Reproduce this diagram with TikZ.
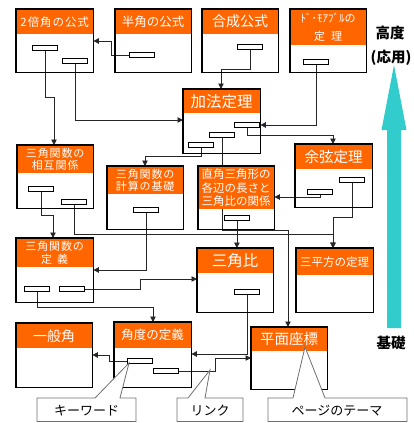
\documentclass[tikz,border=0pt]{standalone}
\usepackage{fontspec}
\setmainfont{Noto Sans CJK JP}
\usetikzlibrary{arrows.meta}
\definecolor{hdrorange}{HTML}{FF6600}
\definecolor{cyanarrow}{HTML}{33CCCC}
\definecolor{calloutgray}{HTML}{707070}
\pgfdeclarelayer{bodylayer}
\pgfdeclarelayer{toplayer}
\pgfsetlayers{bodylayer,main,toplayer}
\newcommand\fs[2]{\fontsize{#1pt}{#2pt}\selectfont}
\newcommand\fsl[2]{\fontsize{#1pt}{#2pt}\selectfont\addfontfeature{LetterSpace=8}}
\tikzset{
  body/.style={rectangle, fill=white, inner sep=0pt, anchor=north west},
  hdr/.style={rectangle, fill=hdrorange, text=white, inner sep=0pt, anchor=north west, align=center},
  frame/.style={draw=black, line width=1.5pt},
  kwbar/.style={rectangle, draw=black, line width=0.8pt, fill=white, minimum width=25pt, minimum height=5pt, inner sep=0pt, anchor=north west},
  link/.style={draw=black!85, line width=0.8pt, -{Triangle[length=5.5pt,width=5.5pt]}},
  callout/.style={draw=calloutgray, fill=white, line width=0.8pt},
  callouttext/.style={font=\fs{13}{15}, text=black, inner sep=0pt},
  sidetext/.style={font=\fs{14.5}{16}\bfseries, text=black, inner sep=0pt}
}
% name, x, y, width, height, header height, font, text
\newcommand\topic[8]{%
  \begin{pgfonlayer}{bodylayer}
    \node[body, minimum width=#4pt, minimum height=#5pt] (#1) at (#2,#3) {};
  \end{pgfonlayer}
  \begin{pgfonlayer}{toplayer}
    \node[hdr, minimum width=#4pt, minimum height=#6pt, font={#7}] (#1h) at (#2,#3) {#8};
    \draw[frame] (#1.north west) rectangle (#1.south east);
  \end{pgfonlayer}
}
\newcommand\kw[3]{\node[kwbar] (#1) at (#2,#3) {};}

\begin{document}
\begin{tikzpicture}[x=1pt, y=-1pt]
\useasboundingbox (0,0) rectangle (413,423);

% boxes
\topic{box1}{16}{9}{77}{63}{25}{\fsl{11.5}{13}}{2倍角の公式}
\topic{box2}{115}{9}{76}{63}{25}{\fs{12.5}{14}}{半角の公式}
\topic{box3}{202}{9}{76}{63}{25}{\fs{14}{16}}{合成公式}
\topic{box4}{290}{9}{76}{63}{36}{\fs{11}{18}}{ﾄﾞ･ﾓｱﾌﾞﾙの\\定\hspace{6pt}理}
\topic{box5}{183}{89}{77}{64}{24}{\fs{15.5}{17}}{加法定理}
\topic{box6}{17}{145}{76}{63}{28}{\fsl{11}{12.5}}{三角関数の\\相互関係}
\topic{box7}{107}{166}{76}{63}{28}{\fsl{11}{12.5}}{三角関数の\\計算の基礎}
\topic{box8}{198}{166}{76}{63}{43}{\fs{11.5}{13.5}}{直角三角形の\\各辺の長さと\\三角比の関係}
\topic{box9}{295}{144}{77}{63}{25}{\fs{14.5}{16}}{余弦定理}
\topic{box10}{16}{238}{77}{64}{29}{\fsl{11}{13}}{三角関数の\\定\hspace{5pt}義}
\topic{box11}{197}{248}{76}{64}{25}{\fs{15.5}{17}}{三角比}
\topic{box12}{296}{248}{77}{64}{27}{\fs{11.5}{13}}{三平方の定理}
\topic{box13}{16}{323}{76}{64}{25}{\fs{14}{16}}{一般角}
\topic{box14}{114}{322}{77}{65}{26}{\fs{12.5}{14}}{角度の定義}
\topic{box15}{251}{327}{76}{62}{24}{\fs{14.5}{16}}{平面座標}

% keyword bars
\kw{b1a}{32}{45}
\kw{b1b}{62}{58}
\kw{b2}{129}{52}
\kw{b3}{237}{44}
\kw{b4}{303}{59}
\kw{b5a}{234}{122}
\kw{b5b}{209}{132}
\kw{b5c}{188}{142}
\kw{b6a}{28}{186}
\kw{b6b}{61}{199}
\kw{b7}{133}{207}
\kw{b8}{224}{215}
\kw{b9a}{339}{177}
\kw{b9b}{307}{189}
\kw{b10a}{24}{286}
\kw{b10b}{59}{286}
\kw{b11}{234}{289}
\kw{b14a}{127}{358}
\kw{b14b}{153}{368}

% links
\draw[link] (b2.west) -| (111,41) -- (box1.east |- 0,41);
\draw[link] (b1a.south) |- (54,97) -- (box6.north -| 54,0);
\draw[link] (b1b.south) |- (box5.west |- 0,120);
\draw[link] (b3.south) |- (221,69) -- (box5.north -| 221,0);
\draw[link] (b4.south) |- (box5.east |- 0,125);
\draw[link] (b5a.south) |- (333,135) -- (box9.north -| 333,0);
\draw[link] (b5b.south) |- (288,230) -- (box15.north -| 288,0);
\draw[link] (b5c.south) |- (145,156) -- (box7.north -| 145,0);
\draw[link] (b6a.south) |- (53,215) -- (box10.north -| 53,0);
\draw[link] (b6b.south) |- (333,234) -- (box12.north -| 333,0);
\draw[link] (b9a.south) |- (333,217) -- (box12.north -| 333,0);
\draw[link] (b9b.south) |- (box8.east |- 0,197);
\draw[link] (b7.south) |- (box10.east |- 0,270);
\draw[link] (b8.south) -- (box11.north -| b8.south);
\draw[link] (b10b.east) -| (140,279) -- (box11.west |- 0,279);
\draw[link] (b10a.south) |- (153,307) -- (box14.north -| 153,0);
\draw[link] (b11.south) |- (box14.east |- 0,354);
\draw[link] (b14a.west) -| (109,355) -- (box13.east |- 0,355);
\draw[link] (b14b.east) -| (215,358) -- (box15.west |- 0,358);

% callouts
\begin{pgfonlayer}{toplayer}
\draw[callout] (37,398) -- (95,398) -- (129,363) -- (120,398) -- (136,398) -- (136,421.5) -- (37,421.5) -- cycle;
\node[callouttext] (ckw) at (86.5,410.5) {キーワード};
\draw[callout] (177,398) -- (188,398) -- (210,370) -- (205,398) -- (243,398) -- (243,421.5) -- (177,421.5) -- cycle;
\node[callouttext] (clink) at (210,410.5) {リンク};
\draw[callout] (268,398) -- (293,398) -- (305,347) -- (325,398) -- (407,398) -- (407,421.5) -- (268,421.5) -- cycle;
\node[callouttext] (ctheme) at (337,410.5) {ページのテーマ};
\end{pgfonlayer}

% level arrow
\fill[cyanarrow] (387,328) -- (387,130) -- (381.5,130) -- (394,65) -- (406.5,130) -- (401,130) -- (401,328) -- cycle;
\node[sidetext] (high) at (390,33) {高度};
\node[sidetext] (apply) at (391,58) {(応用)};
\node[sidetext] (base) at (391,343) {基礎};
\end{tikzpicture}
\end{document}
